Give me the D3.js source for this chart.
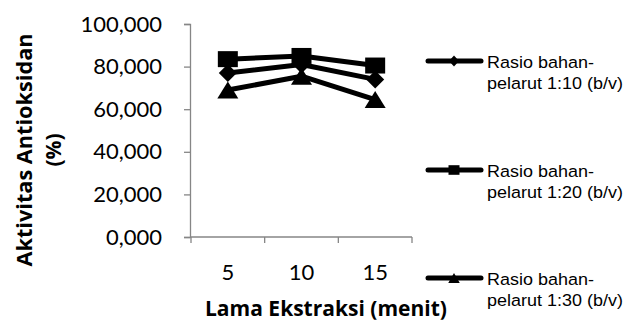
<!DOCTYPE html>
<html>
<head>
<meta charset="utf-8">
<script src="https://cdn.jsdelivr.net/npm/d3@7"></script>
<style>
  body { margin: 0; background: #fff; }
  svg { display: block; }
</style>
</head>
<body>
<svg id="chart" width="628" height="322"></svg>
<script>
// data
const categories = ['5', '10', '15'];
const rasio110 = [77, 81, 74];
const rasio120 = [83.5, 85, 80.5];
const rasio130 = [69, 75.5, 64.5];
const yTicks = [0, 20, 40, 60, 80, 100];
const seriesNames = ['Rasio bahan-|pelarut 1:10 (b/v)', 'Rasio bahan-|pelarut 1:20 (b/v)', 'Rasio bahan-|pelarut 1:30 (b/v)'];

const svg = d3.select('#chart');

const x = d3.scaleBand().domain(categories).range([191, 412]);
const y = d3.scaleLinear().domain([0, 100]).range([237, 24]);

const axisColor = '#868686';
const labelFont = 'Lato, "Open Sans", sans-serif';
const titleFont = '"Open Sans", Lato, sans-serif';

// marker shapes, a bit wider than tall like the reference
const markers = {
    diamond: (w, h) => `M0,${-h}L${w},0L0,${h}L${-w},0Z`,
    square: (w, h) => `M${-w},${-h}H${w}V${h}H${-w}Z`,
    triangle: (w, h) => `M0,${-h}L${w},${h}L${-w},${h}Z`
};

const series = [
    {name: seriesNames[0], values: rasio110, marker: 'diamond', mw: 9, mh: 9},
    {name: seriesNames[1], values: rasio120, marker: 'square', mw: 10, mh: 8},
    {name: seriesNames[2], values: rasio130, marker: 'triangle', mw: 10.5, mh: 8.5}
];

// y axis
const yAxis = d3.axisLeft(y)
    .tickValues(yTicks)
    .tickSize(6)
    .tickFormat(d => d3.format(',.3f')(d).replace('.', ','));

const gy = svg.append('g')
    .attr('transform', 'translate(190,0)')
    .call(yAxis);
gy.select('.domain').attr('stroke', axisColor).attr('stroke-width', 1.3);
gy.selectAll('.tick line').attr('stroke', axisColor).attr('stroke-width', 1.3);
gy.selectAll('.tick text')
    .attr('x', -28)
    .attr('fill', '#000')
    .style('font-family', labelFont)
    .style('font-size', '22px');

// x axis, ticks on the band edges
const gx = svg.append('g')
    .attr('transform', 'translate(0,237)');
gx.append('line')
    .attr('x1', x.range()[0]).attr('x2', x.range()[1])
    .attr('stroke', axisColor).attr('stroke-width', 1.3);
const edges = categories.map(c => x(c)).concat([x.range()[1]]);
gx.selectAll('.edge')
    .data(edges)
    .join('line')
    .attr('class', 'edge')
    .attr('x1', d => d).attr('x2', d => d)
    .attr('y1', 0).attr('y2', 6)
    .attr('stroke', axisColor).attr('stroke-width', 1.3);
gx.selectAll('.lbl')
    .data(categories)
    .join('text')
    .attr('class', 'lbl')
    .attr('x', d => x(d) + x.bandwidth() / 2)
    .attr('y', 43)
    .attr('text-anchor', 'middle')
    .style('font-family', labelFont)
    .style('font-size', '22px')
    .text(d => d);

// axis titles
svg.append('text')
    .attr('x', 326)
    .attr('y', 316)
    .attr('text-anchor', 'middle')
    .attr('textLength', 242)
    .attr('lengthAdjust', 'spacingAndGlyphs')
    .style('font-family', titleFont)
    .style('font-weight', 'bold')
    .style('font-size', '21px')
    .text('Lama Ekstraksi (menit)');

const yTitle = svg.append('text')
    .attr('transform', 'translate(0,150) rotate(-90)')
    .attr('text-anchor', 'middle')
    .style('font-family', titleFont)
    .style('font-weight', 'bold')
    .style('font-size', '21px');
yTitle.append('tspan').attr('x', 0).attr('y', 32)
    .attr('textLength', 233)
    .attr('lengthAdjust', 'spacingAndGlyphs')
    .text('Aktivitas Antioksidan');
yTitle.append('tspan').attr('x', 0).attr('y', 61).text('(%)');

// series lines and markers
const line = d3.line()
    .x((d, i) => x(categories[i]) + x.bandwidth() / 2)
    .y(d => y(d));

series.forEach(s => {
    svg.append('path')
        .datum(s.values)
        .attr('d', line)
        .attr('fill', 'none')
        .attr('stroke', '#000')
        .attr('stroke-width', 5)
        .attr('stroke-linejoin', 'round');
});

series.forEach(s => {
    svg.selectAll(null)
        .data(s.values)
        .join('path')
        .attr('transform', (d, i) => `translate(${x(categories[i]) + x.bandwidth() / 2},${y(d)})`)
        .attr('d', markers[s.marker](s.mw, s.mh))
        .attr('fill', '#000');
});

// legend
const legend = svg.append('g');
const legendRows = [61, 170, 278];
series.forEach((s, i) => {
    const g = legend.append('g').attr('transform', `translate(0,${legendRows[i]})`);
    g.append('line')
        .attr('x1', 428).attr('x2', 481)
        .attr('stroke', '#000')
        .attr('stroke-width', 5)
        .attr('stroke-linecap', 'round');
    g.append('path')
        .attr('transform', 'translate(454,0)')
        .attr('d', markers[s.marker](s.mw * 0.55, s.mh * 0.6))
        .attr('fill', '#000');
    const t = g.append('text')
        .attr('transform', 'translate(487,0) scale(1.09,1)')
        .style('font-family', '"Liberation Sans", Arial, sans-serif')
        .style('font-size', '16.5px');
    s.name.split('|').forEach((part, k) => {
        t.append('tspan').attr('x', 0).attr('y', 7 + k * 21).text(part);
    });
});
</script>
</body>
</html>
